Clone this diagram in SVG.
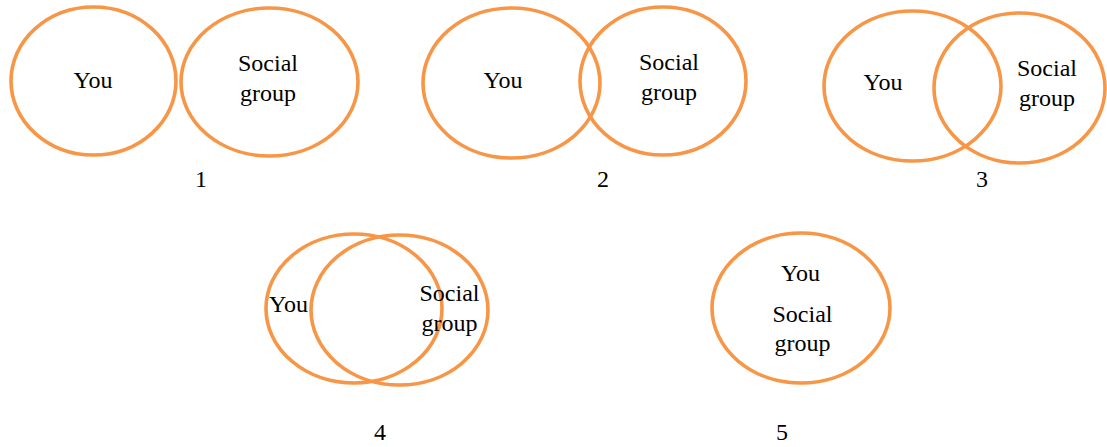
<svg xmlns="http://www.w3.org/2000/svg" width="1107" height="447" viewBox="0 0 1107 447">
  <style>
    .ring { fill: none; stroke: #F79646; stroke-width: 3.6; }
    .lbl { font-family: "Liberation Serif", "Times New Roman", serif; font-size: 24px; fill: #000; text-anchor: middle; }
  </style>
  <rect width="1107" height="447" fill="#fff"/>

  <!-- Stage 1: separate -->
  <g id="stage1">
    <ellipse class="ring" cx="93.5" cy="81" rx="82.5" ry="74"/>
    <ellipse class="ring" cx="269.5" cy="82" rx="88.5" ry="74"/>
    <text class="lbl" x="93" y="88">You</text>
    <text class="lbl" x="268" y="71">Social</text>
    <text class="lbl" x="268" y="101">group</text>
    <text class="lbl" x="201" y="187">1</text>
  </g>

  <!-- Stage 2: slight overlap -->
  <g id="stage2">
    <ellipse class="ring" cx="511.5" cy="83" rx="88.5" ry="75"/>
    <ellipse class="ring" cx="663" cy="81" rx="83" ry="74"/>
    <text class="lbl" x="503" y="88">You</text>
    <text class="lbl" x="669" y="70">Social</text>
    <text class="lbl" x="669" y="100">group</text>
    <text class="lbl" x="603" y="187">2</text>
  </g>

  <!-- Stage 3: moderate overlap -->
  <g id="stage3">
    <ellipse class="ring" cx="912.5" cy="86" rx="88.5" ry="75"/>
    <ellipse class="ring" cx="1019.5" cy="88" rx="85.5" ry="75"/>
    <text class="lbl" x="883" y="90">You</text>
    <text class="lbl" x="1047" y="76">Social</text>
    <text class="lbl" x="1047" y="106">group</text>
    <text class="lbl" x="982" y="187">3</text>
  </g>

  <!-- Stage 4: large overlap -->
  <g id="stage4">
    <ellipse class="ring" cx="354" cy="308.5" rx="88" ry="74.5"/>
    <ellipse class="ring" cx="399.5" cy="310" rx="88.5" ry="75"/>
    <text class="lbl" x="288.5" y="312">You</text>
    <text class="lbl" x="449.5" y="301">Social</text>
    <text class="lbl" x="449.5" y="331">group</text>
    <text class="lbl" x="380" y="440">4</text>
  </g>

  <!-- Stage 5: complete merge -->
  <g id="stage5">
    <ellipse class="ring" cx="801" cy="308" rx="89" ry="75"/>
    <text class="lbl" x="800.5" y="281">You</text>
    <text class="lbl" x="802.5" y="322">Social</text>
    <text class="lbl" x="802.5" y="351">group</text>
    <text class="lbl" x="782" y="440">5</text>
  </g>
</svg>
